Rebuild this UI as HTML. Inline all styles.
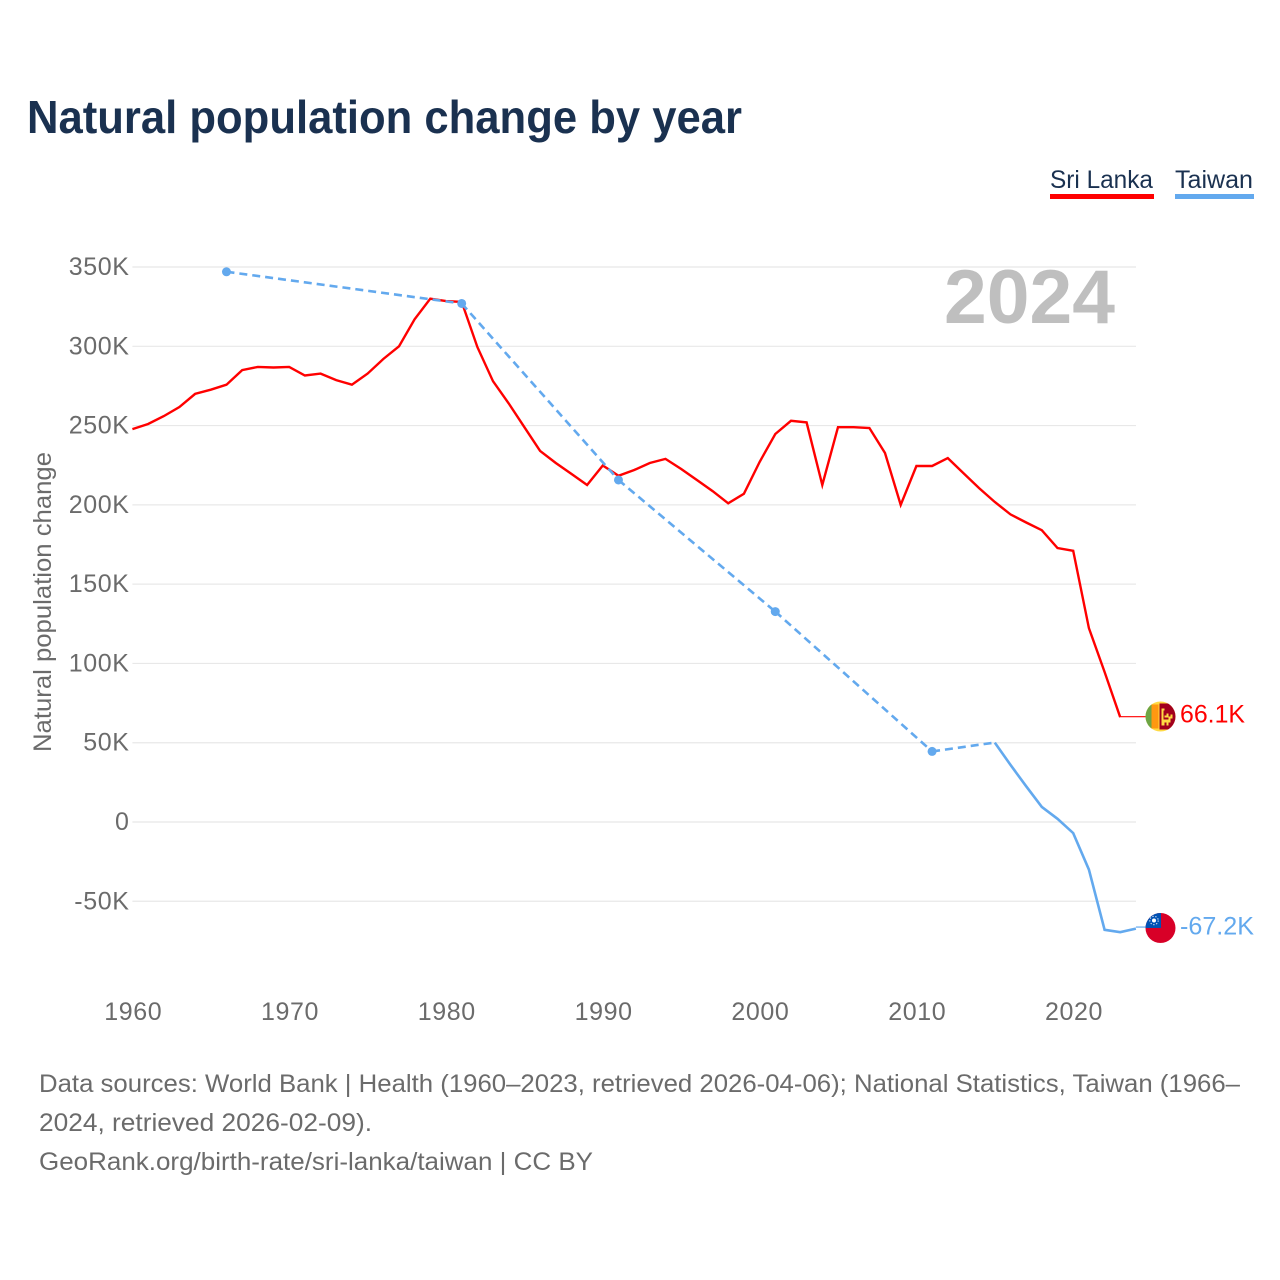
<!DOCTYPE html>
<html lang="en">
<head>
<meta charset="utf-8">
<title>Natural population change by year</title>
<style>
html,body{margin:0;padding:0;background:#fff;width:1280px;height:1280px;overflow:hidden}
svg{display:block;font-family:"Liberation Sans",sans-serif}
.tick{font-size:25px;fill:#6b6b6b;letter-spacing:.6px}
.foot{font-size:25px;fill:#6b6b6b}
</style>
</head>
<body>
<svg id="chart" xmlns="http://www.w3.org/2000/svg" width="1280" height="1280" viewBox="0 0 1280 1280">
  <defs>
    <clipPath id="flag-clip"><circle cx="0" cy="0" r="15"/></clipPath>
  </defs>
  <text x="27" y="133" font-size="46" font-weight="700" fill="#1a3150" textLength="715" lengthAdjust="spacingAndGlyphs">Natural population change by year</text>

  <g>
    <g>
      <text x="1050" y="188" font-size="25" fill="#1a3150" textLength="103" lengthAdjust="spacingAndGlyphs">Sri Lanka</text>
      <rect x="1050" y="194" width="104" height="5" fill="#ff0000"/>
    </g>
    <g>
      <text x="1175" y="188" font-size="25" fill="#1a3150" textLength="78" lengthAdjust="spacingAndGlyphs">Taiwan</text>
      <rect x="1175" y="194" width="79" height="5" fill="#63a9ee"/>
    </g>
  </g>

  <g id="grid"></g>
  <g id="y-ticks"></g>
  <g id="x-ticks"></g>

  <text x="944" y="323" font-size="76" font-weight="700" fill="#bfbfbf" textLength="171" lengthAdjust="spacingAndGlyphs">2024</text>

  <text transform="translate(51,752) rotate(-90)" x="0" y="0" font-size="25" fill="#6b6b6b" textLength="300" lengthAdjust="spacingAndGlyphs">Natural population change</text>

  <g id="series"></g>

  <g id="flag-sri-lanka">
    <g clip-path="url(#flag-clip)">
      <rect x="-15" y="-15" width="30" height="30" fill="#ffda44"/>
      <rect x="-15" y="-12" width="6" height="24" fill="#6da544"/>
      <rect x="-9" y="-12" width="7" height="24" fill="#ff9811"/>
      <rect x="-1" y="-13" width="16" height="26" fill="#a2001d"/>
      <path d="M1-8h3v7h2v-2h2v3h2v-2h2v4h-2v4h-2v3h-2v-3H4v3H1z" fill="#ffda44"/>
      <path d="M3-6h1v7h4v2H3z" fill="#a2001d"/>
    </g>
  </g>
  <g id="flag-taiwan">
    <g clip-path="url(#flag-clip)">
      <rect x="-15" y="-15" width="30" height="30" fill="#d80027"/>
      <rect x="-15" y="-15" width="15.5" height="15" fill="#0052b4"/>
      <circle cx="-6.5" cy="-7.5" r="2" fill="#fff"/>
      <circle cx="-6.5" cy="-7.5" r="4.2" fill="none" stroke="#fff" stroke-width="1.1" stroke-dasharray="1.3 1.7" opacity=".85"/>
    </g>
  </g>

  <text id="label-sri-lanka" x="1180" font-size="25" fill="#ff0000" textLength="65" lengthAdjust="spacingAndGlyphs"></text>
  <text id="label-taiwan" x="1180" font-size="25" fill="#63a9ee" textLength="74" lengthAdjust="spacingAndGlyphs"></text>

  <g>
    <text class="foot" x="39" y="1092" textLength="1201" lengthAdjust="spacingAndGlyphs">Data sources: World Bank | Health (1960–2023, retrieved 2026-04-06); National Statistics, Taiwan (1966–</text>
    <text class="foot" x="39" y="1131" textLength="333" lengthAdjust="spacingAndGlyphs">2024, retrieved 2026-02-09).</text>
    <text class="foot" x="39" y="1170" textLength="554" lengthAdjust="spacingAndGlyphs">GeoRank.org/birth-rate/sri-lanka/taiwan | CC BY</text>
  </g>
</svg>
<script>
const yTickValues = [-50, 0, 50, 100, 150, 200, 250, 300, 350];
const yTickLabels = ['-50K', '0', '50K', '100K', '150K', '200K', '250K', '300K', '350K'];
const xTickYears = [1960, 1970, 1980, 1990, 2000, 2010, 2020];

const sriLankaYears = [1960,1961,1962,1963,1964,1965,1966,1967,1968,1969,1970,1971,1972,1973,1974,1975,1976,1977,1978,1979,1980,1981,1982,1983,1984,1985,1986,1987,1988,1989,1990,1991,1992,1993,1994,1995,1996,1997,1998,1999,2000,2001,2002,2003,2004,2005,2006,2007,2008,2009,2010,2011,2012,2013,2014,2015,2016,2017,2018,2019,2020,2021,2022,2023];
const sriLankaValues = [247.8,251,256,261.7,270,272.6,275.8,285,287,286.6,287,281.6,282.8,278.7,275.8,282.8,292,300,317,330,328.5,328,299.5,278,264,249,234,226.4,219.5,212.5,224.8,218.3,222,226.4,229,222.6,215.7,208.7,201,207,227,244.7,253,252,212.5,249,249,248.5,232.7,200,224.5,224.5,229.5,220,210.6,201.8,194,188.9,184,172.8,171,122.3,94.6,66.1];

const taiwanYears = [1966,1981,1991,2001,2011,2015,2016,2017,2018,2019,2020,2021,2022,2023,2024];
const taiwanValues = [347,327,215.7,132.7,44.5,50.1,36,22.5,9.5,2,-7,-30,-68,-69.5,-67.2];

const NS = 'http://www.w3.org/2000/svg';
const RED = '#ff0000';
const BLUE = '#63a9ee';
const X0 = 132.4, PX_PER_YEAR = 15.68, Y0 = 822, PX_PER_K = 1.5857;
const xScale = year => X0 + (year - 1960) * PX_PER_YEAR;
const yScale = v => Y0 - v * PX_PER_K;
const plotRight = 1136;
const flagX = 1160.5;

function make(tag, parent, attrs) {
  const el = document.createElementNS(NS, tag);
  for (const k in attrs) el.setAttribute(k, attrs[k]);
  parent.appendChild(el);
  return el;
}

const grid = document.getElementById('grid');
const yTicks = document.getElementById('y-ticks');
const xTicks = document.getElementById('x-ticks');
const series = document.getElementById('series');

yTickValues.forEach((v, i) => {
  const line = make('line', grid, {x1: X0, x2: plotRight, y1: yScale(v), y2: yScale(v), stroke: '#e8e8e8', 'stroke-width': 1.2});
  
  
  const t = make('text', yTicks, {x: 129.5, y: yScale(v) + 8, 'text-anchor': 'end', class: 'tick'});
  
  
  t.textContent = yTickLabels[i];
});

xTickYears.forEach(year => {
  const t = make('text', xTicks, {x: xScale(year) + 0.8, y: 1020, 'text-anchor': 'middle', class: 'tick'});
  
  
  t.textContent = String(year);
});

/* Sri Lanka line */
const srPoints = sriLankaYears.map((yr, i) => xScale(yr).toFixed(1) + ',' + yScale(sriLankaValues[i]).toFixed(1)).join(' ');
const srLine = make('polyline', series, {points: srPoints, fill: 'none', stroke: RED, 'stroke-width': 2.4, 'stroke-linejoin': 'miter'});



/* Taiwan: dashed across gaps in the yearly record, solid for consecutive years */
let run = [];
function flushRun() {
  if (run.length > 1) {
    const seg = make('polyline', series, {points: run.join(' '), fill: 'none', stroke: BLUE, 'stroke-width': 2.6});
    
    
  }
  run = [];
}
taiwanYears.forEach((yr, i) => {
  const x = xScale(yr), y = yScale(taiwanValues[i]);
  if (i > 0) {
    const prevYr = taiwanYears[i - 1];
    const px = xScale(prevYr), py = yScale(taiwanValues[i - 1]);
    if (yr - prevYr > 1) {
      flushRun();
      const dash = make('line', series, {x1: px, y1: py, x2: x, y2: y, stroke: BLUE, 'stroke-width': 2.6, 'stroke-dasharray': '8 5'});
      
      
    } else if (!run.length) {
      run.push(px.toFixed(1) + ',' + py.toFixed(1));
    }
    if (yr - prevYr === 1) run.push(x.toFixed(1) + ',' + y.toFixed(1));
  }
});
flushRun();
taiwanYears.forEach((yr, i) => {
  const prevGap = i === 0 || yr - taiwanYears[i - 1] > 1;
  const nextGap = i === taiwanYears.length - 1 || taiwanYears[i + 1] - yr > 1;
  if (prevGap && nextGap) {
    const dot = make('circle', series, {cx: xScale(yr), cy: yScale(taiwanValues[i]), r: 4.5, fill: BLUE});
    
    
  }
});

/* End markers */
function formatK(v) { return v.toFixed(1) + 'K'; }
const srLastV = sriLankaValues[sriLankaValues.length - 1];
const srLastX = xScale(sriLankaYears[sriLankaYears.length - 1]);
const twLastV = taiwanValues[taiwanValues.length - 1];
const twLastX = xScale(taiwanYears[taiwanYears.length - 1]);

const srLeader = make('line', series, {x1: srLastX, x2: flagX - 15, y1: yScale(srLastV) - 0.5, y2: yScale(srLastV) - 0.5, stroke: RED, 'stroke-width': 1.2});


const twLeader = make('line', series, {x1: twLastX, x2: flagX - 15, y1: yScale(twLastV) - 1.5, y2: yScale(twLastV) - 1.5, stroke: BLUE, 'stroke-width': 1.2});



document.getElementById('flag-sri-lanka').setAttribute('transform', 'translate(' + flagX + ',' + (yScale(srLastV) - 0.7) + ')');
document.getElementById('flag-taiwan').setAttribute('transform', 'translate(' + flagX + ',' + (yScale(twLastV) - 0.6) + ')');

const srLabel = document.getElementById('label-sri-lanka');
srLabel.setAttribute('y', yScale(srLastV) + 5.5);
srLabel.textContent = formatK(srLastV);
const twLabel = document.getElementById('label-taiwan');
twLabel.setAttribute('y', yScale(twLastV) + 6);
twLabel.textContent = formatK(twLastV);
</script>
</body>
</html>
